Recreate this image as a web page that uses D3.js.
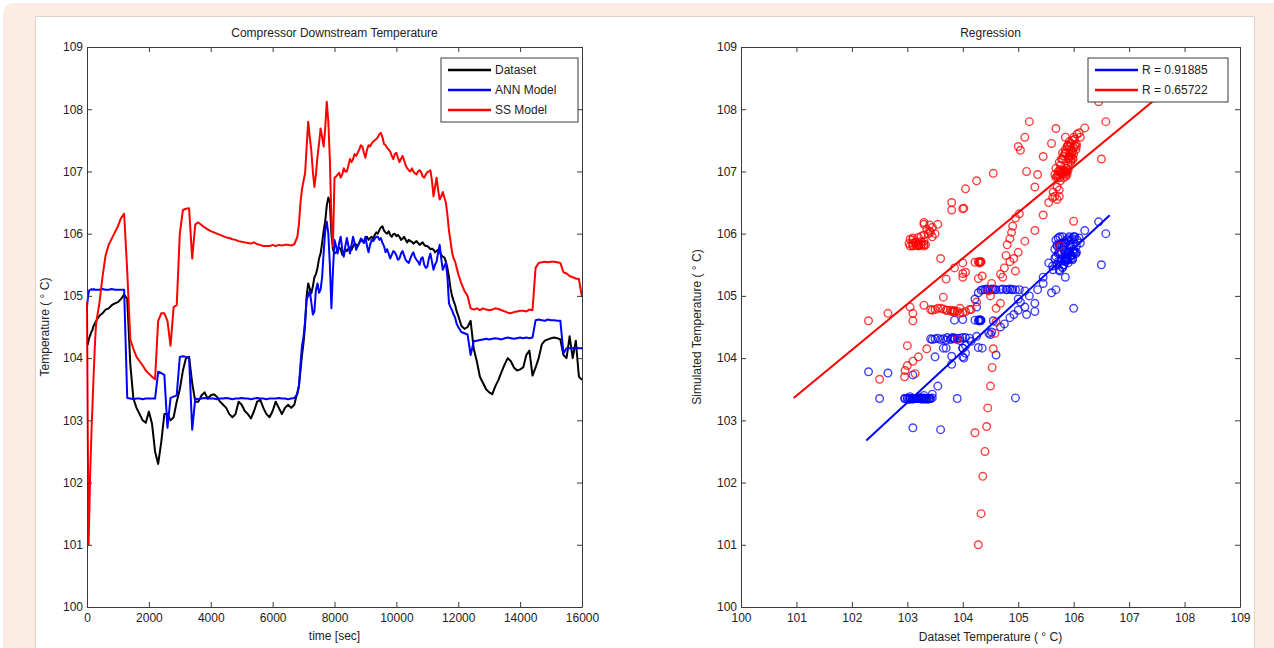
<!DOCTYPE html>
<html>
<head>
<meta charset="utf-8">
<script src="https://cdn.jsdelivr.net/npm/d3@7"></script>
<style>
  body { margin: 0; background: #fff; }
  text { font-family: "Liberation Sans", Arial, sans-serif; fill: #222; }
  .axis text { font-size: 12px; }
  .axis path, .axis line { stroke: #3a3a3a; }
</style>
</head>
<body>
<div id="chart"></div>
<script>
// time axis of the left plot, seconds
var time = [
  0, 25, 50, 75, 100, 125, 150, 175, 200, 225, 250, 275, 300,
  400, 500, 600, 700, 800, 900, 1000,
  1100, 1200, 1300, 1400, 1500, 1600, 1700, 1800, 1900, 2000,
  2100, 2200, 2300, 2400, 2500, 2600, 2700, 2800, 2900, 3000,
  3100, 3200, 3300, 3400, 3500, 3600, 3700, 3800, 3900, 4000,
  4100, 4200, 4300, 4400, 4500, 4600, 4700, 4800, 4900, 5000,
  5100, 5200, 5300, 5400, 5500, 5600, 5700, 5800, 5900, 6000,
  6100, 6200, 6300, 6400, 6500, 6600, 6700,
  6800, 6850, 6900, 6950, 7000, 7050, 7100, 7150, 7200, 7250, 7300, 7350, 7400,
  7450, 7500, 7550, 7600, 7650, 7700, 7750, 7800, 7850, 7900, 7950, 8000,
  8050, 8100, 8150, 8200, 8250, 8300, 8350, 8400, 8450, 8500,
  8550, 8600, 8650, 8700, 8750, 8800, 8850, 8900, 8950, 9000,
  9050, 9100, 9150, 9200, 9250, 9300, 9350, 9400, 9450, 9500,
  9550, 9600, 9650, 9700, 9750, 9800, 9850, 9900, 9950, 10000,
  10050, 10100, 10150, 10200, 10250, 10300, 10350, 10400, 10450, 10500,
  10550, 10600, 10650, 10700, 10750, 10800, 10850, 10900, 10950, 11000,
  11050, 11100, 11150, 11200, 11250, 11300, 11350, 11400, 11450, 11500,
  11550, 11600, 11650, 11700, 11750, 11800, 11850, 11900, 11950, 12000,
  12100, 12200, 12300, 12400, 12500, 12600, 12700, 12800, 12900, 13000,
  13100, 13200, 13300, 13400, 13500, 13600, 13700, 13800, 13900, 14000,
  14100, 14200, 14300, 14400, 14500, 14600, 14700, 14800, 14900, 15000,
  15100, 15200, 15300, 15400, 15500, 15600, 15700, 15800, 15900, 16000
];

var dataset = [
  104.25, 104.22, 104.28, 104.33, 104.36, 104.4, 104.43, 104.45, 104.5, 104.53, 104.55, 104.58, 104.6,
  104.68, 104.72, 104.78, 104.8, 104.85, 104.88, 104.9,
  104.95, 105.02, 104.95, 103.9, 103.35, 103.2, 103.1, 103.0, 102.96, 103.14,
  102.95, 102.5, 102.3, 102.65, 103.1, 103.1, 103.0, 103.05, 103.3, 103.5,
  103.8, 104.0, 104.02, 103.6, 103.3, 103.3, 103.4, 103.45, 103.35, 103.4,
  103.42, 103.38, 103.3, 103.25, 103.2, 103.1, 103.05, 103.1, 103.3, 103.25,
  103.15, 103.1, 103.03, 103.15, 103.3, 103.33, 103.2, 103.1, 103.05, 103.15,
  103.3, 103.2, 103.1, 103.2, 103.25, 103.2, 103.25,
  103.45, 103.55, 103.8, 104.05, 104.25, 104.55, 105.0, 105.2, 105.12, 105.04, 105.15, 105.3, 105.35,
  105.45, 105.6, 105.68, 105.85, 106.05, 106.2, 106.45, 106.58, 106.5, 106.0, 105.75, 105.68,
  105.7, 105.72, 105.78, 105.75, 105.66, 105.68, 105.75, 105.72, 105.76, 105.78,
  105.74, 105.8, 105.84, 105.82, 105.8, 105.85, 105.9, 105.88, 105.86, 105.92,
  105.95, 105.9, 105.93, 105.95, 105.92, 105.98, 106.02, 106.0, 106.06, 106.1,
  106.12, 106.05, 106.02, 106.0, 106.04, 105.98, 105.95, 105.99, 106.0, 105.96,
  105.98, 105.95, 105.9, 105.92, 105.95, 105.9, 105.86, 105.9, 105.88, 105.87,
  105.84, 105.86, 105.88, 105.85, 105.82, 105.84, 105.86, 105.82, 105.8, 105.8,
  105.78, 105.75, 105.76, 105.74, 105.7, 105.72, 105.74, 105.7, 105.66, 105.63,
  105.62, 105.55, 105.45, 105.3, 105.12, 105.0, 104.92, 104.85, 104.75, 104.68,
  104.52, 104.47, 104.5, 104.6, 104.15, 103.95, 103.7, 103.6, 103.5, 103.45,
  103.42, 103.55, 103.65, 103.78, 103.9, 104.0, 103.95, 103.85, 103.8, 103.82,
  103.85, 104.05, 104.12, 103.72, 103.85, 104.0, 104.22, 104.28, 104.3, 104.32,
  104.33, 104.32, 104.3, 104.05, 104.0, 104.35, 104.0, 104.28, 103.7, 103.65
];

var annModel = [
  104.82, 104.95, 105.05, 105.09, 105.1, 105.1, 105.11, 105.1, 105.1, 105.11, 105.1, 105.1, 105.1,
  105.1, 105.11, 105.1, 105.1, 105.11, 105.1, 105.1,
  105.1, 105.1, 103.36, 103.35, 103.34, 103.35, 103.35, 103.34, 103.35, 103.35,
  103.35, 103.35, 103.78, 103.76, 103.73, 102.88, 103.36, 103.38, 103.4, 104.02,
  104.03, 104.02, 104.0, 102.85, 103.35, 103.34, 103.35, 103.36, 103.35, 103.35,
  103.35, 103.34, 103.35, 103.35, 103.36, 103.35, 103.34, 103.35, 103.35, 103.36,
  103.35, 103.35, 103.34, 103.35, 103.36, 103.35, 103.35, 103.34, 103.35, 103.35,
  103.35, 103.36, 103.35, 103.35, 103.34, 103.35, 103.36,
  103.42, 103.55, 103.9, 104.2, 104.35, 104.6, 104.95, 105.0, 105.08, 104.9, 104.7, 104.75, 105.1,
  105.2, 105.05, 105.1, 105.3, 105.7, 106.05, 106.19, 106.0, 105.5, 104.8, 105.4, 105.9,
  105.8, 105.68, 105.85, 105.95, 105.75, 105.63, 105.8, 105.93, 105.8, 105.68,
  105.82, 105.95, 105.85, 105.74, 105.8, 105.85, 105.92, 105.9, 105.85, 105.95,
  105.8, 105.7, 105.82, 105.9, 105.88, 105.92, 105.95, 105.95, 105.9, 105.93,
  105.85, 105.8, 105.7, 105.75, 105.68, 105.6, 105.66, 105.72, 105.7, 105.65,
  105.58, 105.6, 105.68, 105.72, 105.65, 105.58, 105.55, 105.53, 105.6, 105.66,
  105.7, 105.62, 105.58, 105.55, 105.5, 105.6, 105.62, 105.5, 105.45, 105.47,
  105.6, 105.68, 105.55, 105.42, 105.5, 105.55, 105.7, 105.82, 105.6, 105.42,
  105.48, 105.53, 105.3, 104.88, 104.82, 104.77, 104.7, 104.65, 104.55, 104.5,
  104.42, 104.4, 104.38, 104.05, 104.27, 104.28, 104.29, 104.3, 104.31, 104.3,
  104.31, 104.32, 104.31, 104.3, 104.32, 104.33, 104.32, 104.31, 104.32, 104.33,
  104.32, 104.33, 104.32, 104.33, 104.61, 104.62, 104.61, 104.6, 104.62, 104.61,
  104.61, 104.6, 104.6, 104.08, 104.16, 104.16, 104.16, 104.17, 104.16, 104.16
];

var ssModel = [
  104.9, 102.8, 101.0, 101.5, 102.1, 102.5, 102.9, 103.2, 103.55, 103.85, 104.15, 104.4, 104.58,
  104.88, 105.3, 105.65, 105.82, 105.92, 106.02, 106.12,
  106.25, 106.32, 105.4, 104.3, 104.15, 104.02, 103.95, 103.88, 103.8, 103.75,
  103.7, 103.66, 104.6, 104.72, 104.72, 104.6, 104.2, 104.82, 104.85, 106.0,
  106.38, 106.4, 106.41, 105.6, 106.15, 106.18, 106.14, 106.1, 106.07, 106.04,
  106.02, 106.0, 105.98, 105.96, 105.94, 105.93, 105.91, 105.9, 105.88, 105.87,
  105.86, 105.85, 105.84, 105.86, 105.83, 105.82, 105.8, 105.8, 105.8, 105.82,
  105.8, 105.82, 105.81, 105.82, 105.82, 105.81, 105.83,
  105.95, 106.15, 106.5, 106.72, 106.85, 106.97, 107.4, 107.8, 107.55, 107.34, 107.0, 106.75, 106.95,
  107.24, 107.45, 107.69, 107.55, 107.4, 107.7, 108.12, 107.8, 107.2, 106.2, 105.8, 106.9,
  106.92, 106.95, 106.98, 106.9, 106.95, 107.05, 107.0, 107.0, 107.1, 107.2,
  107.15, 107.2, 107.28, 107.25, 107.3, 107.35, 107.42, 107.4, 107.3, 107.22,
  107.35, 107.42, 107.4, 107.45, 107.48, 107.5, 107.52, 107.55, 107.6, 107.62,
  107.55, 107.44, 107.42, 107.38, 107.35, 107.32, 107.25, 107.2, 107.28, 107.3,
  107.22, 107.15, 107.2, 107.25, 107.18, 107.1, 107.05, 107.02, 107.0, 107.05,
  107.0, 106.97, 106.95, 107.0, 107.02, 106.99, 106.92, 106.9, 106.95, 106.99,
  107.0, 107.02, 106.85, 106.6, 106.75, 106.9, 106.7, 106.55, 106.6, 106.67,
  106.58, 106.5, 106.3, 106.05, 105.88, 105.7, 105.6, 105.55, 105.45, 105.35,
  105.2, 105.08, 105.0, 104.8, 104.78, 104.8, 104.77, 104.8, 104.78, 104.77,
  104.78, 104.8, 104.79, 104.77, 104.75, 104.73, 104.72, 104.74, 104.75, 104.76,
  104.76, 104.75, 104.78, 104.77, 105.45, 105.53, 105.54, 105.55, 105.54, 105.55,
  105.55, 105.54, 105.53, 105.38, 105.36, 105.32, 105.3, 105.28, 105.27, 104.98
];

var seriesNames = ["Dataset", "ANN Model", "SS Model"];
var seriesColors = ["#000000", "#0000ff", "#ff0000"];

// regression lines of the right plot: model = slope * dataset + intercept
var fitLabels = ["R = 0.91885", "R = 0.65722"];
var fitColors = ["#0000ff", "#ff0000"];
var fitSlope = [0.825, 0.736];
var fitIntercept = [18.31, 29.06];
var fitFrom = [102.26, 100.95];
var fitTo = [106.65, 108.15];

var timeTicks = [0, 2000, 4000, 6000, 8000, 10000, 12000, 14000, 16000];
var tempTicks = [100, 101, 102, 103, 104, 105, 106, 107, 108, 109];

var svg = d3.select("#chart").append("svg")
  .attr("width", 1274)
  .attr("height", 648);

// page background
svg.append("rect").attr("x", 3).attr("y", 3).attr("width", 1290).attr("height", 680)
  .attr("rx", 10).attr("fill", "#fbede3");
svg.append("rect").attr("x", 35.5).attr("y", 16.5).attr("width", 1219).attr("height", 660)
  .attr("fill", "#fff").attr("stroke", "#ddd3cb");

var height = 560;

function frame(g, x, y, w, xTicks) {
  g.append("g").attr("class", "axis").attr("transform", "translate(0," + height + ")")
    .call(d3.axisBottom(x).tickValues(xTicks)
      .tickSizeInner(-5).tickSizeOuter(0).tickPadding(6).tickFormat(d3.format("d")));
  g.append("g").attr("class", "axis")
    .call(d3.axisTop(x).tickValues(xTicks).tickSizeInner(-5).tickSizeOuter(0).tickFormat(""));
  g.append("g").attr("class", "axis")
    .call(d3.axisLeft(y).tickValues(tempTicks).tickSizeInner(-5).tickSizeOuter(0).tickPadding(4));
  g.append("g").attr("class", "axis").attr("transform", "translate(" + w + ",0)")
    .call(d3.axisRight(y).tickValues(tempTicks).tickSizeInner(-5).tickSizeOuter(0).tickFormat(""));
}

function legend(g, x0, w, names, colors) {
  var lg = g.append("g").attr("transform", "translate(" + x0 + ",11)");
  lg.append("rect").attr("width", w).attr("height", 20 * names.length + 4)
    .attr("fill", "#fff").attr("stroke", "#3a3a3a");
  names.forEach(function (n, i) {
    lg.append("line").attr("x1", 7).attr("x2", 50).attr("y1", 12 + 20 * i).attr("y2", 12 + 20 * i)
      .attr("stroke", colors[i]).attr("stroke-width", 2.5);
    lg.append("text").attr("x", 54).attr("y", 12 + 20 * i).attr("dy", "0.35em")
      .style("font-size", "12px").text(n);
  });
}

// ---------- left: time series ----------
var wL = 495;
var gL = svg.append("g").attr("transform", "translate(87,47)");
var xTime = d3.scaleLinear().domain([0, 16000]).range([0, wL]);
var yL = d3.scaleLinear().domain([100, 109]).range([height, 0]);

[dataset, annModel, ssModel].forEach(function (s, i) {
  gL.append("path")
    .datum(time)
    .attr("fill", "none")
    .attr("stroke", seriesColors[i])
    .attr("stroke-width", 2)
    .attr("stroke-linejoin", "round")
    .attr("d", d3.line()
      .x(function (t) { return xTime(t); })
      .y(function (t, k) { return yL(s[k]); }));
});

frame(gL, xTime, yL, wL, timeTicks);
legend(gL, 354, 137, seriesNames, seriesColors);

gL.append("text").attr("x", wL / 2).attr("y", -10).style("text-anchor", "middle")
  .style("font-size", "12px").text("Compressor Downstream Temperature");
gL.append("text").attr("x", wL / 2).attr("y", height + 33).style("text-anchor", "middle")
  .style("font-size", "12px").text("time [sec]");
gL.append("text").attr("transform", "translate(-42," + (height / 2) + ") rotate(-90)")
  .attr("dy", "0.35em").style("text-anchor", "middle").style("font-size", "12px")
  .text("Temperature ( \u00b0 C)");

// ---------- right: regression ----------
var wR = 499;
var gR = svg.append("g").attr("transform", "translate(741,47)");
var xR = d3.scaleLinear().domain([100, 109]).range([0, wR]);
var yR = d3.scaleLinear().domain([100, 109]).range([height, 0]);

[annModel, ssModel].forEach(function (s, i) {
  gR.append("g").selectAll("circle")
    .data(dataset)
    .enter().append("circle")
    .attr("cx", function (d) { return xR(d); })
    .attr("cy", function (d, k) { return yR(s[k]); })
    .attr("r", 3.8)
    .attr("fill", "none")
    .attr("stroke", fitColors[i])
    .attr("stroke-width", 1.4)
    .attr("stroke-opacity", 0.75);
});

fitSlope.forEach(function (m, i) {
  gR.append("line")
    .attr("x1", xR(fitFrom[i])).attr("y1", yR(m * fitFrom[i] + fitIntercept[i]))
    .attr("x2", xR(fitTo[i])).attr("y2", yR(m * fitTo[i] + fitIntercept[i]))
    .attr("stroke", fitColors[i]).attr("stroke-width", 2);
});

frame(gR, xR, yR, wR, tempTicks);
legend(gR, 347, 140, fitLabels, fitColors);

gR.append("text").attr("x", wR / 2).attr("y", -10).style("text-anchor", "middle")
  .style("font-size", "12px").text("Regression");
gR.append("text").attr("x", wR / 2).attr("y", height + 34).style("text-anchor", "middle")
  .style("font-size", "12px").text("Dataset Temperature ( \u00b0 C)");
gR.append("text").attr("transform", "translate(-44," + (height / 2) + ") rotate(-90)")
  .attr("dy", "0.35em").style("text-anchor", "middle").style("font-size", "12px")
  .text("Simulated Temperature ( \u00b0 C)");
</script>
</body>
</html>
